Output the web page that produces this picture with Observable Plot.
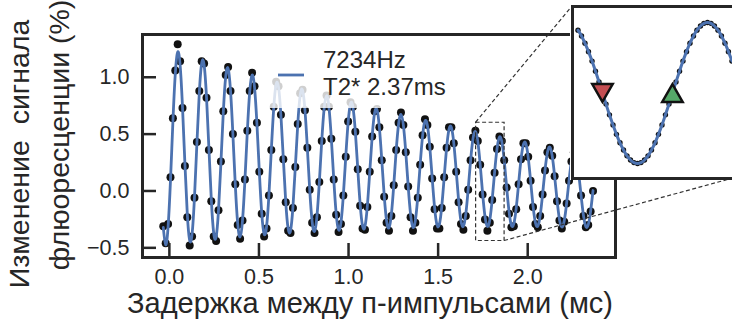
<!DOCTYPE html>
<html><head><meta charset="utf-8">
<script src="https://cdn.jsdelivr.net/npm/d3@7"></script>
<script src="https://cdn.jsdelivr.net/npm/@observablehq/plot@0.6"></script>
<style>
html,body{margin:0;padding:0;background:#fff;}
#fig{position:relative;width:732px;height:326px;overflow:hidden;background:#fff;font-family:"Liberation Sans",Arial,sans-serif;}
#fig > svg{position:absolute;}
</style></head>
<body><div id="fig"></div>
<script>
// ---------- data ----------
const xTicks = [0, 0.5, 1.0, 1.5, 2.0];
const yTicks = [-0.5, 0, 0.5, 1.0];
const xLabel = "Задержка между п-импульсами (мс)";
const yLabelLines = ["Изменение  сигнала", "флюоресценции (%)"];
const legendLines = ["7234Hz", "T2* 2.37ms"];

// delay (ms) of each measured point
const times = [
-0.034,-0.0206,-0.0072,0.0062,0.0196,0.033,0.0464,0.0598,0.0732,0.0866,
0.1,0.1134,0.1268,0.1402,0.1536,0.167,0.1804,0.1938,0.2072,0.2206,
0.234,0.2474,0.2608,0.2742,0.2876,0.301,0.3144,0.3278,0.3412,0.3546,
0.368,0.3814,0.3948,0.4082,0.4216,0.435,0.4484,0.4618,0.4752,0.4886,
0.502,0.5154,0.5288,0.5422,0.5556,0.569,0.5824,0.5958,0.6092,0.6226,
0.636,0.6494,0.6628,0.6762,0.6896,0.703,0.7164,0.7298,0.7432,0.7566,
0.77,0.7834,0.7968,0.8102,0.8236,0.837,0.8504,0.8638,0.8772,0.8906,
0.904,0.9174,0.9308,0.9442,0.9576,0.971,0.9844,0.9978,1.0112,1.0246,
1.038,1.0514,1.0648,1.0782,1.0916,1.105,1.1184,1.1318,1.1452,1.1586,
1.172,1.1854,1.1988,1.2122,1.2256,1.239,1.2524,1.2658,1.2792,1.2926,
1.306,1.3194,1.3328,1.3462,1.3596,1.373,1.3864,1.3998,1.4132,1.4266,
1.44,1.4534,1.4668,1.4802,1.4936,1.507,1.5204,1.5338,1.5472,1.5606,
1.574,1.5874,1.6008,1.6142,1.6276,1.641,1.6544,1.6678,1.6812,1.6946,
1.708,1.7214,1.7348,1.7482,1.7616,1.775,1.7884,1.8018,1.8152,1.8286,
1.842,1.8554,1.8688,1.8822,1.8956,1.909,1.9224,1.9358,1.9492,1.9626,
1.976,1.9894,2.0028,2.0162,2.0296,2.043,2.0564,2.0698,2.0832,2.0966,
2.11,2.1234,2.1368,2.1502,2.1636,2.177,2.1904,2.2038,2.2172,2.2306,
2.244,2.2574,2.2708,2.2842,2.2976,2.311,2.3244,2.3378,2.3512,2.3646];

// measured signal (%)
const signal = [
-0.31,-0.46,-0.29,0.12,0.64,1.06,1.29,1.14,0.73,0.22,
-0.23,-0.48,-0.40,-0.06,0.43,0.88,1.14,1.12,0.82,0.36,
-0.09,-0.40,-0.44,-0.17,0.26,0.70,1.02,1.09,0.88,0.50,
0.06,-0.30,-0.42,-0.26,0.10,0.53,0.88,1.04,0.92,0.60,
0.17,-0.20,-0.40,-0.33,-0.04,0.36,0.74,0.96,0.92,0.67,
0.28,-0.10,-0.35,-0.37,-0.15,0.21,0.59,0.86,0.89,0.71,
0.38,0.01,-0.28,-0.37,-0.23,0.08,0.44,0.74,0.84,0.74,
0.46,0.10,-0.21,-0.36,-0.29,-0.04,0.30,0.61,0.78,0.74,
0.52,0.19,-0.13,-0.33,-0.34,-0.14,0.17,0.48,0.70,0.72,
0.56,0.27,-0.05,-0.28,-0.35,-0.22,0.05,0.36,0.60,0.69,
0.58,0.34,0.04,-0.23,-0.35,-0.28,-0.06,0.23,0.49,0.63,
0.58,0.39,0.11,-0.16,-0.33,-0.33,-0.15,0.12,0.38,0.56,
0.56,0.42,0.17,-0.10,-0.29,-0.34,-0.22,0.01,0.27,0.47,
0.53,0.44,0.23,-0.03,-0.25,-0.35,-0.28,-0.08,0.16,0.37,
0.48,0.44,0.27,0.03,-0.20,-0.32,-0.31,-0.16,0.06,0.28,
0.42,0.42,0.30,0.09,-0.14,-0.29,-0.32,-0.22,-0.03,0.18,
0.34,0.38,0.31,0.13,-0.09,-0.26,-0.33,-0.27,-0.11,0.09,
0.26,0.34,0.30,0.16,-0.04,-0.22,-0.32,-0.30,-0.18,0.00];

// fitted curve (7234 Hz, T2* 2.37 ms) at the same delays
const fitValues = [
-0.320,-0.474,-0.316,0.093,0.604,1.031,1.222,1.111,0.739,0.243,
-0.201,-0.434,-0.377,-0.053,0.417,0.862,1.124,1.110,0.827,0.378,
-0.074,-0.370,-0.405,-0.171,0.245,0.691,1.006,1.078,0.884,0.495,
0.052,-0.288,-0.404,-0.259,0.093,0.521,0.872,1.020,0.913,0.592,
0.173,-0.193,-0.378,-0.317,-0.037,0.360,0.729,0.938,0.913,0.665,
0.284,-0.093,-0.331,-0.349,-0.142,0.211,0.582,0.838,0.887,0.713,
0.380,0.009,-0.269,-0.355,-0.223,0.078,0.437,0.725,0.837,0.737,
0.460,0.107,-0.195,-0.341,-0.279,-0.037,0.298,0.603,0.769,0.737,
0.520,0.197,-0.116,-0.308,-0.313,-0.131,0.169,0.477,0.684,0.715,
0.560,0.276,-0.035,-0.262,-0.325,-0.206,0.052,0.352,0.587,0.673,
0.579,0.341,0.044,-0.206,-0.320,-0.260,-0.050,0.232,0.483,0.614,
0.578,0.389,0.116,-0.144,-0.298,-0.294,-0.135,0.119,0.375,0.542,
0.559,0.421,0.179,-0.080,-0.265,-0.311,-0.204,0.016,0.267,0.459,
0.523,0.436,0.231,-0.018,-0.224,-0.312,-0.255,-0.074,0.163,0.370,
0.473,0.435,0.270,0.039,-0.177,-0.301,-0.290,-0.151,0.064,0.277,
0.410,0.417,0.296,0.089,-0.128,-0.278,-0.310,-0.214,-0.027,0.183,
0.339,0.386,0.307,0.131,-0.079,-0.248,-0.317,-0.263,-0.108,0.091,
0.262,0.342,0.304,0.161,-0.035,-0.214,-0.313,-0.298,-0.177,0.004];

// zoomed region shown in the inset
const zoomX = [1.712, 1.871];
const zoomY = [-0.44, 0.60];

// finely sampled points in the inset
const insetTimes = [
1.7174,1.7209,1.7243,1.7278,1.7313,1.7347,1.7382,1.7416,1.7451,1.7485,
1.7520,1.7554,1.7589,1.7624,1.7658,1.7693,1.7727,1.7762,1.7796,1.7831,
1.7866,1.7900,1.7935,1.7969,1.8004,1.8038,1.8073,1.8107,1.8142,1.8177,
1.8211,1.8246,1.8280,1.8315,1.8349,1.8384,1.8418,1.8453,1.8488,1.8522,
1.8557,1.8591,1.8626,1.8660,1.8695];
const insetSignal = [
0.457,0.422,0.378,0.327,0.270,0.209,0.144,0.077,0.010,-0.055,
-0.116,-0.173,-0.224,-0.268,-0.303,-0.328,-0.344,-0.349,-0.344,-0.328,
-0.303,-0.268,-0.224,-0.173,-0.116,-0.055,0.010,0.077,0.144,0.209,
0.270,0.327,0.378,0.422,0.457,0.482,0.498,0.503,0.498,0.482,
0.457,0.422,0.378,0.327,0.270];

// operating points marked with triangles
const markerTimes = [1.7416, 1.8107];
const markerValues = [0.077, 0.077];
const markerColors = ["#c44e52", "#55a868"];

// ---------- drawing ----------
const FONT = '"Liberation Sans", Arial, sans-serif';
const INK = "#262626";
const BLUE = "#4c72b0";
const fig = document.getElementById("fig");

const W = 732, H = 326;
const M = {left: 142, right: 117, top: 34, bottom: 69};
const plotW = W - M.left - M.right, plotH = H - M.top - M.bottom;

const points = times.map((t, i) => ({t, v: signal[i]}));
const fitPoints = times.map((t, i) => ({t, v: fitValues[i]}));
const zoomBox = {x1: zoomX[0], x2: zoomX[1], y1: zoomY[0], y2: zoomY[1]};
const fmt = d3.format(".1f");

const main = Plot.plot({
  width: W, height: H,
  marginLeft: M.left, marginRight: M.right, marginTop: M.top, marginBottom: M.bottom,
  style: {fontFamily: FONT, fontSize: "21.5px", color: INK, background: "transparent", overflow: "visible"},
  x: {domain: [-0.15, 2.49]},
  y: {domain: [-0.585, 1.376]},
  marks: [
    Plot.dot(points, {x: "t", y: "v", r: 4, fill: "#111"}),
    Plot.line(fitPoints, {x: "t", y: "v", stroke: BLUE, strokeWidth: 2.8, curve: "natural"}),
    Plot.rect([zoomBox], {x1: "x1", x2: "x2", y1: "y1", y2: "y2", fill: "none", stroke: "#333", strokeWidth: 1.2, strokeDasharray: "4,2.5"}),
    Plot.tickX(xTicks, {x: d => d, insetTop: plotH - 14, stroke: INK, strokeWidth: 2.5}),
    Plot.tickY(yTicks, {y: d => d, insetRight: plotW - 14, stroke: INK, strokeWidth: 2.5}),
    Plot.frame({stroke: INK, strokeWidth: 3}),
    Plot.axisX(xTicks, {tickSize: 0, tickPadding: 11, tickFormat: fmt, fontSize: 21.5, label: null}),
    Plot.axisY(yTicks, {tickSize: 0, tickPadding: 13, tickFormat: fmt, fontSize: 21.5, label: null})
  ]
});
main.style.left = "0px"; main.style.top = "0px";
fig.appendChild(main);

const xs = main.scale("x"), ys = main.scale("y");

// inset placement
const INSET = {left: 572, top: 6, w: 161, h: 172, pad: 2};

// overlay: axis titles, legend, connector lines
const ov = d3.create("svg").attr("width", W).attr("height", H)
  .style("left", "0px").style("top", "0px")
  .attr("font-family", FONT).attr("fill", INK);

ov.append("text").attr("x", 370).attr("y", 313).attr("text-anchor", "middle")
  .attr("font-size", 29).text(xLabel);
const yCols = [{x: 28.5, y: 154}, {x: 69, y: 135}];
yLabelLines.forEach((s, i) => {
  ov.append("text").attr("transform", `translate(${yCols[i].x},${yCols[i].y}) rotate(-90)`)
    .attr("text-anchor", "middle").attr("font-size", 28.5)
    .style("white-space", "pre").attr("xml:space", "preserve").text(s);
});

// legend (semi-transparent box over the data)
ov.append("rect").attr("x", 266).attr("y", 40).attr("width", 186).attr("height", 68)
  .attr("rx", 4).attr("fill", "#fff").attr("fill-opacity", 0.8);
ov.append("line").attr("x1", 278).attr("x2", 304).attr("y1", 75).attr("y2", 75)
  .attr("stroke", BLUE).attr("stroke-width", 2.8);
legendLines.forEach((s, i) => {
  ov.append("text").attr("x", 323).attr("y", 68 + i * 27).attr("font-size", 24).text(s);
});

// connectors from the zoom box to the inset
const conn = [
  [xs.apply(zoomX[0]), ys.apply(zoomY[1]), INSET.left, INSET.top],
  [xs.apply(zoomX[1]), ys.apply(zoomY[0]), INSET.left + INSET.w, INSET.top + INSET.h]
];
conn.forEach(([x1, y1, x2, y2]) => {
  ov.append("line").attr("x1", x1).attr("y1", y1).attr("x2", x2).attr("y2", y2)
    .attr("stroke", "#333").attr("stroke-width", 1.2).attr("stroke-dasharray", "4,2.5");
});
fig.appendChild(ov.node());

// inset
const insetPoints = insetTimes.map((t, i) => ({t, v: insetSignal[i]}));
const markers = markerTimes.map((t, i) => ({t, v: markerValues[i], fill: markerColors[i]}));
const inset = Plot.plot({
  width: INSET.w + 2 * INSET.pad, height: INSET.h + 2 * INSET.pad,
  margin: INSET.pad,
  style: {background: "#fff", overflow: "visible"},
  x: {domain: zoomX, axis: null},
  y: {domain: zoomY, axis: null},
  color: {type: "identity"},
  marks: [
    Plot.dot(insetPoints, {x: "t", y: "v", r: 2.7, fill: "#111"}),
    Plot.line(insetPoints, {x: "t", y: "v", stroke: BLUE, strokeWidth: 3, curve: "natural"}),
    Plot.dot([markers[0]], {x: "t", y: "v", symbol: "triangle", r: 7.6, fill: "fill", stroke: "#111", strokeWidth: 2.5, rotate: 180, dy: -3}),
    Plot.dot([markers[1]], {x: "t", y: "v", symbol: "triangle", r: 7.6, fill: "fill", stroke: "#111", strokeWidth: 2.5, dy: 3}),
    Plot.frame({stroke: INK, strokeWidth: 3})
  ]
});
inset.style.left = (INSET.left - INSET.pad) + "px";
inset.style.top = (INSET.top - INSET.pad) + "px";
fig.appendChild(inset);
</script>
</body></html>
